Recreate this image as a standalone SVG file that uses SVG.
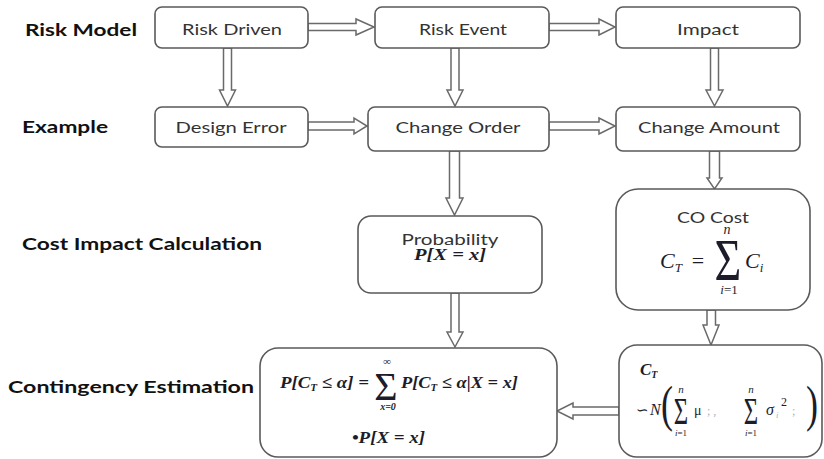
<svg xmlns="http://www.w3.org/2000/svg" width="824" height="459" viewBox="0 0 824 459">
<style>
.box{fill:#fff;stroke:#5a5a5a;stroke-width:1.6}
.arr{fill:#fff;stroke:#6a6a6a;stroke-width:1.5;stroke-linejoin:miter}
.lbl{font-family:Lato,"Liberation Sans",sans-serif;font-weight:bold;font-size:17px;fill:#111}
.nt{font-family:Lato,"Liberation Sans",sans-serif;font-size:15px;fill:#333;text-anchor:middle}
.m{font-family:"Liberation Serif","Times New Roman",serif;font-style:italic;fill:#1c1c2a}
.mb{font-family:"Liberation Serif","Times New Roman",serif;font-style:italic;font-weight:bold;fill:#1c1c2a}
.up{font-family:"Liberation Serif","Times New Roman",serif;fill:#1c1c2a}
.faint{fill:#b0b0b8}
</style>
<rect width="824" height="459" fill="#fff"/>

<g id="labels">
<text class="lbl" x="25" y="36" textLength="112" lengthAdjust="spacingAndGlyphs">Risk Model</text>
<text class="lbl" x="22" y="133" textLength="86" lengthAdjust="spacingAndGlyphs">Example</text>
<text class="lbl" x="22" y="250" textLength="240" lengthAdjust="spacingAndGlyphs">Cost Impact Calculation</text>
<text class="lbl" x="8" y="393" textLength="246" lengthAdjust="spacingAndGlyphs">Contingency Estimation</text>
</g>

<g id="connectors">
<polygon class="arr" points="308,23.5 356,23.5 356,19 374,27 356,35 356,30.5 308,30.5"/>
<polygon class="arr" points="549,23.5 599,23.5 599,19 615,27 599,35 599,30.5 549,30.5"/>
<polygon class="arr" points="308,122 354,122 354,118 367,126 354,134 354,130 308,130"/>
<polygon class="arr" points="549,122 599,122 599,118 615,126 599,134 599,130 549,130"/>
<polygon class="arr" points="223.5,48 223.5,90 219.5,90 227.5,106 235.5,90 231.5,90 231.5,48"/>
<polygon class="arr" points="451,48 451,90 447,90 455,106 463,90 459,90 459,48"/>
<polygon class="arr" points="710.5,48 710.5,90 706,90 714.5,106 723,90 718.5,90 718.5,48"/>
<polygon class="arr" points="449.5,151 449.5,198 446,198 454.5,215 463,198 459.5,198 459.5,151"/>
<polygon class="arr" points="709.5,151 709.5,178 707,178 714.5,189 722,178 719.5,178 719.5,151"/>
<polygon class="arr" points="451,293 451,332 447,332 455,347 463,332 459,332 459,293"/>
<polygon class="arr" points="707,310 707,325 703,325 711,345 719,325 715.5,325 715.5,310"/>
<polygon class="arr" points="619,407 573,407 573,403 557,411 573,419 573,415 619,415"/>
</g>

<g id="risk-driven">
<rect class="box" x="155" y="7" width="153" height="41" rx="7"/>
<text class="nt" x="232" y="35" textLength="100" lengthAdjust="spacingAndGlyphs">Risk Driven</text>
</g>
<g id="risk-event">
<rect class="box" x="375" y="7" width="174" height="41" rx="7"/>
<text class="nt" x="463" y="35" textLength="88" lengthAdjust="spacingAndGlyphs">Risk Event</text>
</g>
<g id="impact">
<rect class="box" x="616" y="7" width="184" height="41" rx="7"/>
<text class="nt" x="708" y="35" textLength="62" lengthAdjust="spacingAndGlyphs">Impact</text>
</g>
<g id="design-error">
<rect class="box" x="155" y="107" width="153" height="40" rx="7"/>
<text class="nt" x="231" y="133" textLength="111" lengthAdjust="spacingAndGlyphs">Design Error</text>
</g>
<g id="change-order">
<rect class="box" x="368" y="107" width="181" height="44" rx="7"/>
<text class="nt" x="458" y="133" textLength="125" lengthAdjust="spacingAndGlyphs">Change Order</text>
</g>
<g id="change-amount">
<rect class="box" x="616" y="107" width="184" height="44" rx="7"/>
<text class="nt" x="709" y="133" textLength="142" lengthAdjust="spacingAndGlyphs">Change Amount</text>
</g>

<g id="probability">
<rect class="box" x="358" y="216" width="184" height="77" rx="13"/>
<text class="nt" x="450" y="245" textLength="97" lengthAdjust="spacingAndGlyphs">Probability</text>
<text class="mb" x="414" y="260" font-size="16" textLength="72" lengthAdjust="spacingAndGlyphs">P[X = x]</text>
</g>

<g id="co-cost">
<rect class="box" x="616" y="189" width="194" height="121" rx="22"/>
<text class="nt" x="713" y="223" textLength="72" lengthAdjust="spacingAndGlyphs">CO Cost</text>
<text class="m" x="660" y="268" font-size="22">C<tspan font-size="13" dy="4">T</tspan></text>
<text class="up" x="698" y="268" font-size="22" text-anchor="middle">=</text>
<text class="up" transform="translate(728,280) scale(1,1.3)" font-size="46" text-anchor="middle">Σ</text>
<text class="m" x="727" y="234" font-size="14" text-anchor="middle">n</text>
<text class="m" x="729" y="294" font-size="13" text-anchor="middle">i<tspan font-style="normal">=1</tspan></text>
<text class="m" x="745" y="268" font-size="22">C<tspan font-size="13" dy="4">i</tspan></text>
</g>

<g id="contingency">
<rect class="box" x="260" y="348" width="297" height="109" rx="18"/>
<text class="mb" x="280" y="388" font-size="17" textLength="89" lengthAdjust="spacingAndGlyphs">P[C<tspan font-size="10" dy="3">T</tspan><tspan dy="-3"> ≤ α] =</tspan></text>
<text class="up" x="386" y="400" font-size="40" text-anchor="middle">Σ</text>
<text class="mb" x="387" y="365" font-size="11" text-anchor="middle">∞</text>
<text class="mb" x="388" y="410" font-size="10" text-anchor="middle">x=0</text>
<text class="mb" x="401" y="388" font-size="17" textLength="117" lengthAdjust="spacingAndGlyphs">P[C<tspan font-size="10" dy="3">T</tspan><tspan dy="-3"> ≤ α|X = x]</tspan></text>
<text class="mb" x="352" y="443" font-size="17" textLength="73" lengthAdjust="spacingAndGlyphs">•P[X = x]</text>
</g>

<g id="ct-distribution">
<rect class="box" x="619" y="345" width="203" height="112" rx="18"/>
<text class="mb" x="640" y="375" font-size="17">C<tspan font-size="10" dy="3">T</tspan></text>
<text class="up" x="636" y="415" font-size="15">∽</text>
<text class="m" x="650" y="415" font-size="16">N</text>
<text class="up" transform="translate(667,421) scale(1,1.4)" font-size="36" text-anchor="middle">(</text>
<text class="up" transform="translate(681,424) scale(0.65,1)" font-size="38" text-anchor="middle">Σ</text>
<text class="m" x="681" y="393" font-size="11" text-anchor="middle">n</text>
<text class="m" x="681" y="436" font-size="9" text-anchor="middle">i<tspan font-style="normal">=1</tspan></text>
<text class="up" x="694" y="415" font-size="14">μ</text>
<text class="up faint" x="707" y="415" font-size="12">; ,</text>
<text class="up" transform="translate(751,424) scale(0.65,1)" font-size="38" text-anchor="middle">Σ</text>
<text class="m" x="751" y="393" font-size="11" text-anchor="middle">n</text>
<text class="m" x="751" y="436" font-size="9" text-anchor="middle">i<tspan font-style="normal">=1</tspan></text>
<text class="m" x="766" y="415" font-size="16">σ</text>
<text class="m faint" x="776" y="418" font-size="9">i</text>
<text class="up" x="781" y="406" font-size="12">2</text>
<text class="up faint" x="792" y="415" font-size="12">;</text>
<text class="up" transform="translate(806,421) scale(1,1.4)" font-size="36">)</text>
</g>
</svg>
